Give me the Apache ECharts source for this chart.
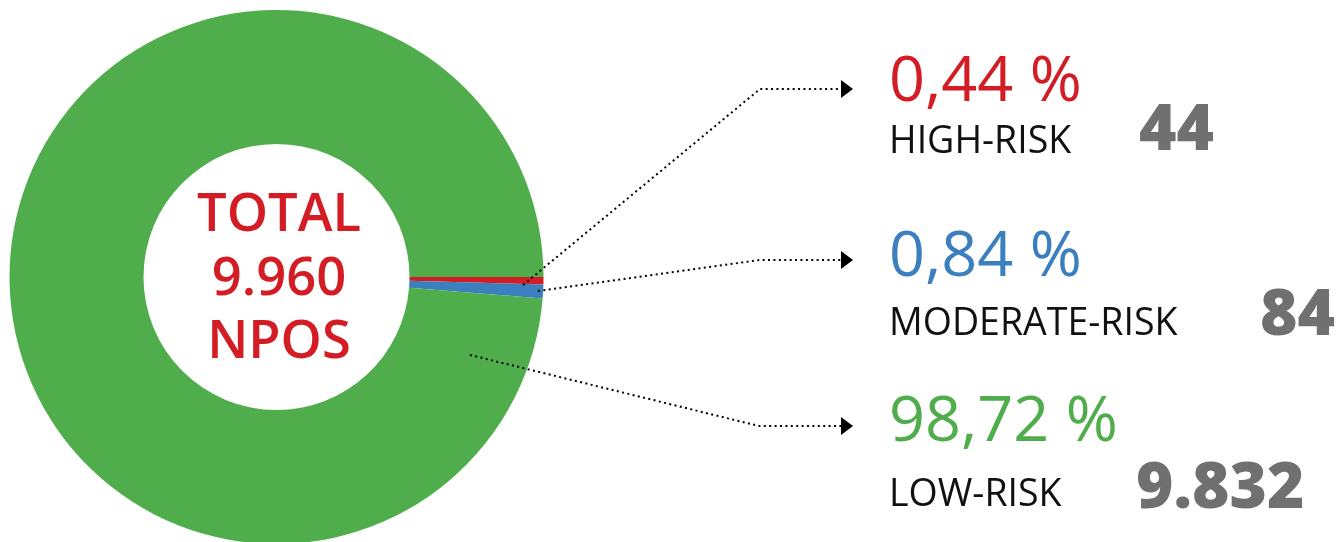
<!DOCTYPE html>
<html>
<head>
<meta charset="utf-8">
<script src="https://cdn.jsdelivr.net/npm/echarts@6/dist/echarts.min.js"></script>
<style>
html,body{margin:0;padding:0;background:#fff;}
#chart{width:1338px;height:542px;}
</style>
</head>
<body>
<div id="chart"></div>
<script>
// ---- data ----
var categories = ['HIGH-RISK', 'MODERATE-RISK', 'LOW-RISK'];
var counts = [44, 84, 9832];
var percents = [0.44, 0.84, 98.72];   // as printed in the source
var colors = ['#d41c24', '#3b7fbf', '#4fae4b'];
var totalUnit = 'NPOS';
var totalWord = 'TOTAL';

// ---- layout (annotation positions, not data) ----
var labelX = 889;
var pctY = [82.6, 257.6, 422.6];
var nameY = [142.6, 324.6, 495.6];
var countX = [1139, 1260, 1136];
var countY = [132, 317, 490];
var leaders = [
  [[523, 285], [760, 89], [841, 89]],
  [[538, 291], [760, 260], [841, 260]],
  [[470, 355], [759, 426], [841, 426]]
];

function fmtThousands(n) {
  return String(n).replace(/\B(?=(\d{3})+(?!\d))/g, '.');
}
var total = counts.reduce(function (a, b) { return a + b; }, 0);
function fmtPct(p) {
  return p.toFixed(2).replace('.', ',') + ' %';
}

var chart = echarts.init(document.getElementById('chart'), null, {renderer: 'canvas'});

var graphics = [];
// center total text
graphics.push({
  type: 'text',
  x: 279, y: 280,
  silent: true,
  style: {
    text: totalWord + '\n' + fmtThousands(total) + '\n' + totalUnit,
    align: 'center', verticalAlign: 'middle',
    fill: '#d41c24',
    font: '600 52.5px "Open Sans"',
    lineHeight: 63.5
  }
});
categories.forEach(function (name, i) {
  graphics.push({
    type: 'text', x: labelX, y: pctY[i], silent: true,
    style: {text: fmtPct(percents[i]), fill: colors[i], font: '400 63px "Open Sans"',
            align: 'left', verticalAlign: 'middle'}
  });
  graphics.push({
    type: 'text', x: labelX, y: nameY[i], silent: true,
    style: {text: name, fill: '#111111', font: '400 37.5px "Open Sans"',
            align: 'left', verticalAlign: 'middle'}
  });
  graphics.push({
    type: 'text', x: countX[i], y: countY[i], silent: true,
    style: {text: fmtThousands(counts[i]), fill: '#707070', font: '800 64px "Open Sans"',
            align: 'left', verticalAlign: 'middle'}
  });
  var pts = leaders[i];
  graphics.push({
    type: 'polyline', silent: true, z: 10,
    shape: {points: pts},
    style: {stroke: '#000', lineWidth: 2, lineDash: [2, 3.4], fill: null}
  });
  var end = pts[pts.length - 1];
  graphics.push({
    type: 'polygon', silent: true, z: 10,
    shape: {points: [[end[0], end[1] - 9], [end[0] + 12, end[1]], [end[0], end[1] + 9]]},
    style: {fill: '#000'}
  });
});

chart.setOption({
  animation: false,
  backgroundColor: '#ffffff',
  series: [{
    type: 'pie',
    center: [276.5, 277],
    radius: [133, 267],
    startAngle: 0,
    clockwise: true,
    silent: true,
    avoidLabelOverlap: false,
    label: {show: false},
    labelLine: {show: false},
    itemStyle: {borderWidth: 0},
    emphasis: {disabled: true},
    data: categories.map(function (c, i) {
      return {name: c, value: counts[i], itemStyle: {color: colors[i]}};
    })
  }],
  graphic: graphics
});
</script>
</body>
</html>
